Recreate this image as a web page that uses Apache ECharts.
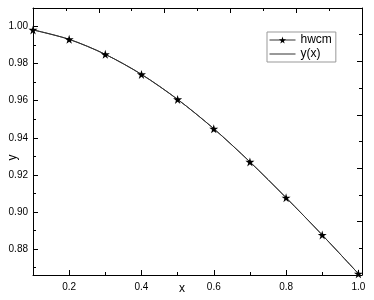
<!DOCTYPE html>
<html>
<head>
<meta charset="utf-8">
<script src="https://cdn.jsdelivr.net/npm/echarts@6/dist/echarts.min.js"></script>
<style>html,body{margin:0;padding:0;background:#fff}#c{width:374px;height:300px}</style>
</head>
<body>
<div id="c"></div>
<script>
var xValues = [0.1, 0.2, 0.3, 0.4, 0.5, 0.6, 0.7, 0.8, 0.9, 1.0];
var hwcmValues = [0.9982, 0.9931, 0.9850, 0.9742, 0.9607, 0.9449, 0.9270, 0.9077, 0.8876, 0.8667];
var yxValues = [0.9982, 0.9931, 0.9850, 0.9742, 0.9607, 0.9449, 0.9270, 0.9077, 0.8876, 0.8667];
var xMajorTicks = [0.2, 0.4, 0.6, 0.8, 1.0];
var xMinorTicks = [0.3, 0.5, 0.7, 0.9];
var yMajorTicks = [0.88, 0.90, 0.92, 0.94, 0.96, 0.98, 1.00];
var yMinorTicks = [0.87, 0.89, 0.91, 0.93, 0.95, 0.97, 0.99];

var FONT = 'Liberation Sans, Arial, sans-serif';
var STAR = 'path://M50,0 L61,35 L98,35 L68,57 L79,91 L50,70 L21,91 L32,57 L2,35 L39,35 Z';
var xMin = 0.1, xMax = 1.01, yMin = 0.866, yMax = 1.01;

function pairs(xs, ys) { return xs.map(function (x, i) { return [x, ys[i]]; }); }

var chart = echarts.init(document.getElementById('c'), null, {renderer: 'canvas'});
var lineBlack = {show: true, lineStyle: {color: '#000', width: 1}};
chart.setOption({
  animation: false,
  backgroundColor: '#fff',
  textStyle: {fontFamily: FONT},
  grid: {left: 33, right: 12, top: 8, bottom: 25, containLabel: false, outerBoundsMode: 'none'},
  legend: {
    orient: 'vertical', left: 267, top: 32,
    padding: [1, 4, 1, 2], itemGap: 0, itemWidth: 26, itemHeight: 9,
    borderColor: '#999', borderWidth: 1,
    textStyle: {fontFamily: FONT, fontSize: 12, color: '#000', lineHeight: 14},
    lineStyle: {width: 1, color: '#333'},
    data: [
      {name: 'hwcm'},
      {name: 'y(x)', itemStyle: {opacity: 0}}
    ]
  },
  xAxis: [
    {type: 'value', position: 'bottom', min: xMin, max: xMax,
     name: 'x', nameLocation: 'middle', nameGap: 8, nameMoveOverlap: false,
     nameTextStyle: {fontFamily: FONT, fontSize: 12, color: '#000', padding: [0, 31, 0, 0]},
     axisLine: lineBlack, splitLine: {show: false},
     axisTick: {show: true, inside: true, length: 5, customValues: xMajorTicks, lineStyle: {color: '#000'}},
     axisLabel: {show: true, customValues: xMajorTicks, margin: 7, fontSize: 10, color: '#000', fontFamily: FONT,
       formatter: function (v) { return v.toFixed(1); }}},
    {type: 'value', position: 'bottom', min: xMin, max: xMax,
     axisLine: {show: false}, splitLine: {show: false}, axisLabel: {show: false},
     axisTick: {show: true, inside: true, length: 3, customValues: xMinorTicks, lineStyle: {color: '#000'}}},
    {type: 'value', position: 'top', min: 0, max: 1, interval: 0.2,
     axisLine: lineBlack, splitLine: {show: false}, axisLabel: {show: false},
     axisTick: {show: true, inside: true, length: 5, lineStyle: {color: '#000'}},
     minorTick: {show: true, splitNumber: 2, length: 3, lineStyle: {color: '#000'}}}
  ],
  yAxis: [
    {type: 'value', position: 'left', min: yMin, max: yMax,
     name: 'y', nameLocation: 'middle', nameGap: 14, nameMoveOverlap: false,
     nameTextStyle: {fontFamily: FONT, fontSize: 12, color: '#000', padding: [0, 32, 0, 0]},
     axisLine: lineBlack, splitLine: {show: false},
     axisTick: {show: true, inside: true, length: 5, customValues: yMajorTicks, lineStyle: {color: '#000'}},
     axisLabel: {show: true, customValues: yMajorTicks, margin: 5, fontSize: 10, color: '#000', fontFamily: FONT,
       formatter: function (v) { return v.toFixed(2); }}},
    {type: 'value', position: 'left', min: yMin, max: yMax,
     axisLine: {show: false}, splitLine: {show: false}, axisLabel: {show: false},
     axisTick: {show: true, inside: true, length: 3, customValues: yMinorTicks, lineStyle: {color: '#000'}}},
    {type: 'value', position: 'right', min: 0, max: 1, interval: 0.2,
     axisLine: lineBlack, splitLine: {show: false}, axisLabel: {show: false},
     axisTick: {show: true, inside: true, length: 5, lineStyle: {color: '#000'}},
     minorTick: {show: true, splitNumber: 2, length: 3, lineStyle: {color: '#000'}}}
  ],
  series: [
    {name: 'hwcm', type: 'line', xAxisIndex: 0, yAxisIndex: 0, data: pairs(xValues, hwcmValues),
     smooth: 0.3, symbol: STAR, symbolSize: 9, showSymbol: true,
     itemStyle: {color: '#000'}, lineStyle: {color: '#333', width: 1}, z: 3},
    {name: 'y(x)', type: 'line', xAxisIndex: 0, yAxisIndex: 0, data: pairs(xValues, yxValues),
     smooth: 0.3, symbol: 'none', itemStyle: {color: '#333'}, lineStyle: {color: '#333', width: 1}, z: 2}
  ]
});
</script>
</body>
</html>
